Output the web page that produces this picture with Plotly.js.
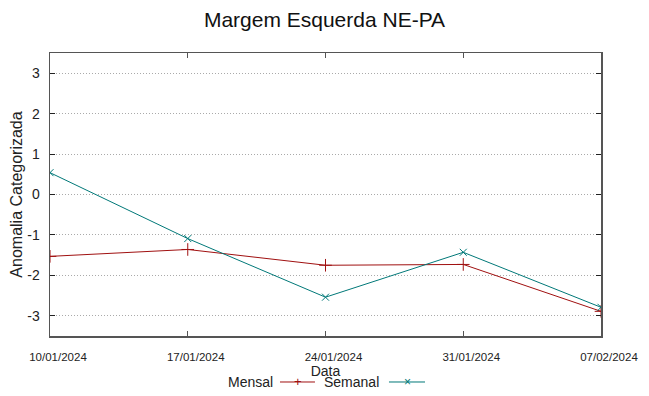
<!DOCTYPE html>
<html>
<head>
<meta charset="utf-8">
<script src="https://cdn.plot.ly/plotly-3.0.1.min.js"></script>
<style>html,body{margin:0;padding:0;background:#fff;}#chart{width:649px;height:396px;}</style>
</head>
<body>
<div id="chart"></div>
<script>
const dates = ["10/01/2024", "17/01/2024", "24/01/2024", "31/01/2024", "07/02/2024"];
const mensal = [-1.53, -1.36, -1.75, -1.73, -2.89];
const semanal = [0.54, -1.09, -2.54, -1.43, -2.79];
const yTicks = [-3, -2, -1, 0, 1, 2, 3];
const yTickText = ["-3", "-2", "-1", "0", "1", "2", "3"];
const seriesNames = ["Mensal", "Semanal"];
const colors = ["#a01010", "#007878"];

const traces = [
  {x: dates, y: mensal, name: seriesNames[0], type: "scatter", mode: "lines+markers",
   line: {color: colors[0], width: 1},
   marker: {symbol: "cross-thin-open", size: 9, color: colors[0], line: {color: colors[0], width: 1}}},
  {x: dates, y: semanal, name: seriesNames[1], type: "scatter", mode: "lines+markers",
   line: {color: colors[1], width: 1},
   marker: {symbol: "x-thin-open", size: 7, color: colors[1], line: {color: colors[1], width: 1}}}
];

// gnuplot-style key: text, then line sample with marker
const legY = -0.1625;
const annotations = [
  {text: seriesNames[0], xref: "paper", yref: "paper", x: 0.408, y: legY, xanchor: "right", yanchor: "middle", showarrow: false, font: {size: 14, color: "#222"}},
  {text: seriesNames[1], xref: "paper", yref: "paper", x: 0.6007, y: legY, xanchor: "right", yanchor: "middle", showarrow: false, font: {size: 14, color: "#222"}},
  {text: "+", xref: "paper", yref: "paper", x: 0.450, y: legY, xanchor: "center", yanchor: "middle", showarrow: false, font: {size: 13, color: colors[0]}},
  {text: "×", xref: "paper", yref: "paper", x: 0.648, y: legY, xanchor: "center", yanchor: "middle", showarrow: false, font: {size: 12, color: colors[1]}}
];
const shapes = [
  {type: "line", xref: "paper", yref: "paper", x0: 0.4174, x1: 0.4809, y0: legY, y1: legY, line: {color: colors[0], width: 1}},
  {type: "line", xref: "paper", yref: "paper", x0: 0.6152, x1: 0.6806, y0: legY, y1: legY, line: {color: colors[1], width: 1}}
];

const layout = {
  width: 649, height: 396,
  margin: {l: 50, r: 48, t: 53, b: 60},
  paper_bgcolor: "#fff", plot_bgcolor: "#fff",
  font: {family: "Liberation Sans, Arial, sans-serif", color: "#222"},
  title: {text: "Margem Esquerda NE-PA", x: 0.5, xanchor: "center", y: 0.95, yanchor: "middle", font: {size: 21, color: "#111"}},
  showlegend: false,
  annotations: annotations,
  shapes: shapes,
  xaxis: {type: "category", range: [0, 4], showgrid: false, zeroline: false, automargin: false,
          showline: true, linecolor: "#555", linewidth: 1.5, mirror: "ticks",
          ticks: "inside", ticklen: 5, tickcolor: "#555", ticklabelstandoff: 10, ticklabelshift: 8,
          tickfont: {size: 11.5, color: "#222"},
          title: {text: "Data", font: {size: 14, color: "#222"}, standoff: 0}},
  yaxis: {range: [-3.5, 3.5], tickvals: yTicks, ticktext: yTickText, showgrid: true, gridcolor: "#aaa", griddash: "1px,2px", gridwidth: 1,
          zeroline: false, showline: true, linecolor: "#555", linewidth: 1.5, mirror: "ticks", automargin: false,
          ticks: "inside", ticklen: 5, tickcolor: "#222", ticklabelstandoff: 6,
          tickfont: {size: 14, color: "#222"},
          title: {text: "Anomalia Categorizada", font: {size: 16, color: "#222"}, standoff: 0}}
};

Plotly.newPlot("chart", traces, layout, {displayModeBar: false, staticPlot: true});
</script>
</body>
</html>
